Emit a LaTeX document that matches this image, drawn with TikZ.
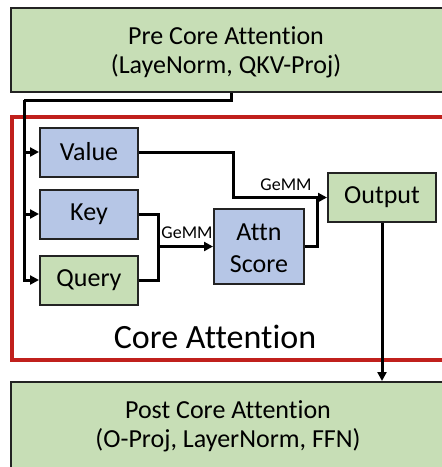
\documentclass[tikz,border=0pt]{standalone}
\usepackage{fontspec}
\setmainfont{Carlito}[Ligatures={NoCommon}]
\usetikzlibrary{arrows.meta}

\definecolor{boxgreen}{RGB}{199,222,182}
\definecolor{boxblue}{RGB}{182,198,230}
\definecolor{coreRed}{RGB}{192,32,28}
\definecolor{edge}{RGB}{35,35,35}

\tikzset{
  stage/.style={draw=edge, line width=2pt, fill=boxgreen, inner sep=0pt},
  tensor/.style={draw=edge, line width=2pt, align=center,
    font=\fontsize{26}{31}\selectfont, inner sep=0pt,
    minimum width=98pt, minimum height=49pt},
  caption/.style={anchor=base, inner sep=0pt, font=\fontsize{26}{29}\selectfont},
  wire/.style={draw=black, line width=3pt},
  feed/.style={wire, -{Triangle[length=9pt,width=9pt]}},
  oplabel/.style={font=\fontsize{18}{18}\selectfont, inner sep=0pt}
}

\begin{document}
\begin{tikzpicture}[x=1pt,y=-1pt]
  \useasboundingbox (0,0) rectangle (442,467);
  \clip (0,0) rectangle (442,467);
  \fill[white] (0,0) rectangle (442,467);

  % stages before and after core attention
  \node[stage, minimum width=440pt, minimum height=84pt] (pre) at (231,50) {};
  \node[caption] (preA) at (226,44) {Pre Core Attention};
  \node[caption] (preB) at (226,73) {(LayeNorm, QKV-Proj)};

  \node[stage, minimum width=440pt, minimum height=96pt] (post) at (231,430) {};
  \node[caption] (postA) at (228,418) {Post Core Attention};
  \node[caption] (postB) at (228,447) {(O-Proj, LayerNorm, FFN)};

  % core attention frame
  \draw[coreRed, line width=3.8pt] (12,117) rectangle (460,360);
  \node[anchor=base, font=\fontsize{34}{34}\selectfont, inner sep=0pt] (corelabel)
    at (215,348) {Core Attention};

  % inputs
  \node[tensor, fill=boxblue] (value) at (89,152) {Value};
  \node[tensor, fill=boxblue] (key) at (89,214) {Key};
  \node[tensor, fill=boxgreen] (query) at (89,280) {Query};

  % score and output
  \node[tensor, fill=boxblue, minimum width=90pt, minimum height=75pt] (attn)
    at (259,246.5) {};
  \node[caption] (attnA) at (259,240) {Attn};
  \node[caption] (attnB) at (259,272) {Score};
  \node[tensor, fill=boxgreen, minimum width=108pt, minimum height=49pt] (output)
    at (382,197.5) {Output};

  % QKV distribution bus
  \coordinate (bus) at (24,100);
  \draw[wire] (pre.south) |- (bus);
  \draw[feed] (bus) |- (query.west);
  \draw[feed] (bus |- value.west) -- (value.west);
  \draw[feed] (bus |- key.west) -- (key.west);

  % Q x K^T
  \coordinate (qk) at (158,246.5);
  \draw[wire] (key.east) -| (qk);
  \draw[wire] (query.east) -| (qk);
  \draw[feed] (qk) -- (attn.west);
  \node[oplabel] (gemm1) at (187,233) {GeMM};

  % Score x V
  \coordinate (sv) at (233,197.5);
  \coordinate (sj) at (317,197.5);
  \draw[feed] (value.east) -| (sv) -- (output.west);
  \draw[wire] (attn.east) -| (sj);
  \node[oplabel] (gemm2) at (286,185) {GeMM};

  % result to post stage
  \draw[feed] (output.south) -- (output.south |- post.north);
\end{tikzpicture}
\end{document}
